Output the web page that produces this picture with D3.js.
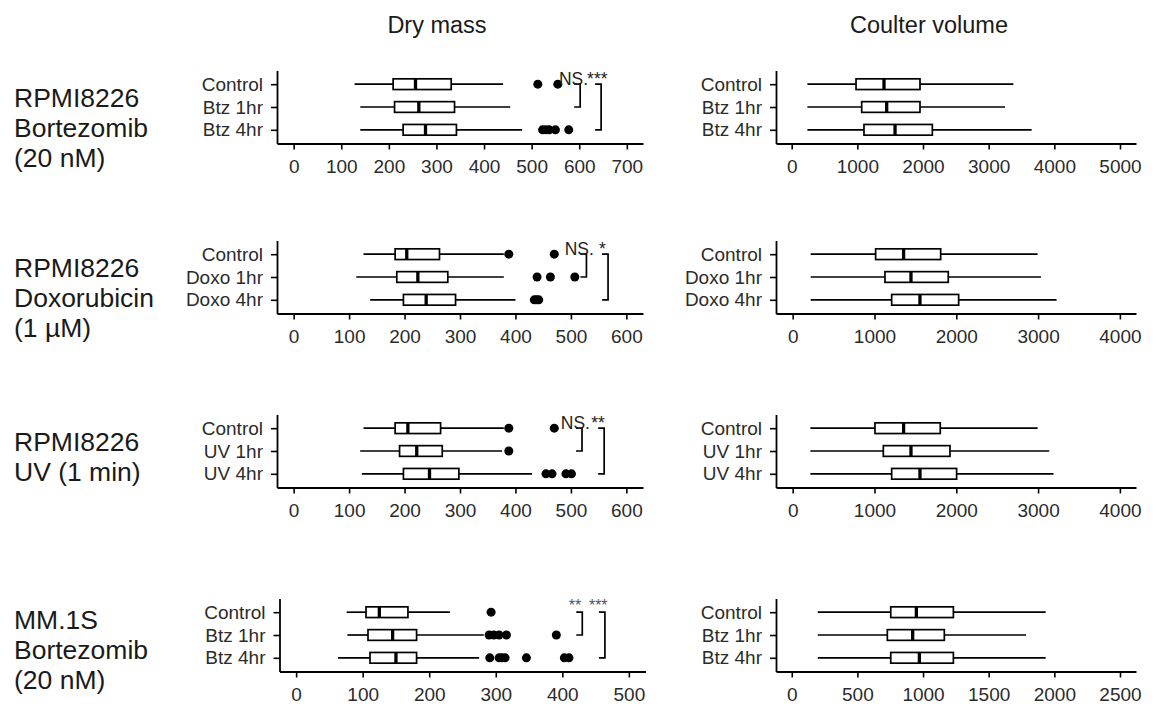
<!DOCTYPE html>
<html>
<head>
<meta charset="utf-8">
<script src="https://cdn.jsdelivr.net/npm/d3@7"></script>
<style>
  body { margin: 0; background: #fff; }
  text { font-family: "Liberation Sans", Arial, sans-serif; }
</style>
</head>
<body>
<div id="chart"></div>
<script>
// ---- data ----
const columnTitles = ["Dry mass", "Coulter volume"];

const rowLabels = [
    ["RPMI8226", "Bortezomib", "(20 nM)"],
    ["RPMI8226", "Doxorubicin", "(1 \u00b5M)"],
    ["RPMI8226", "UV (1 min)"],
    ["MM.1S", "Bortezomib", "(20 nM)"]
];

const groupNames = [
    ["Control", "Btz 1hr", "Btz 4hr"],
    ["Control", "Doxo 1hr", "Doxo 4hr"],
    ["Control", "UV 1hr", "UV 4hr"],
    ["Control", "Btz 1hr", "Btz 4hr"]
];

// [whisker low, q1, median, q3, whisker high]
const dryStats = [
    [[128, 209, 256, 331, 440], [140, 212, 263, 338, 455], [140, 230, 277, 342, 480]],
    [[126, 183, 204, 263, 379], [113, 186, 224, 278, 379], [138, 198, 239, 292, 400]],
    [[126, 183, 206, 265, 379], [120, 191, 222, 268, 376], [123, 198, 245, 298, 430]],
    [[76, 105, 125, 168, 231], [77, 108, 145, 181, 282], [63, 111, 150, 181, 275]]
];

const dryOutliers = [
    [[513, 555], [], [523, 530, 537, 550, 578]],
    [[388, 470], [439, 463, 507], [434, 438, 442]],
    [[388, 470], [388], [455, 466, 491, 501]],
    [[293], [290, 297, 305, 316, 391], [291, 305, 309, 314, 346, 403, 410]]
];

const coulterStats = [
    [[239, 980, 1406, 1954, 3376], [239, 1066, 1447, 1954, 3249], [239, 1101, 1574, 2142, 3655]],
    [[220, 1014, 1356, 1809, 2994], [220, 1128, 1446, 1902, 3035], [220, 1210, 1556, 2029, 3226]],
    [[216, 1006, 1356, 1804, 2994], [216, 1108, 1446, 1923, 3136], [216, 1210, 1556, 2004, 3189]],
    [[198, 754, 949, 1231, 1934], [198, 728, 921, 1162, 1784], [198, 754, 972, 1231, 1934]]
];

const dryTicks = [
    [0, 100, 200, 300, 400, 500, 600, 700],
    [0, 100, 200, 300, 400, 500, 600],
    [0, 100, 200, 300, 400, 500, 600],
    [0, 100, 200, 300, 400, 500]
];
const coulterTicks = [
    [0, 1000, 2000, 3000, 4000, 5000],
    [0, 1000, 2000, 3000, 4000],
    [0, 1000, 2000, 3000, 4000],
    [0, 500, 1000, 1500, 2000, 2500]
];

// axis extents (value units)
const dryLimits = [[-35, 734], [-30, 630], [-30, 630], [-25, 525]];
const coulterLimits = [[-239, 5244], [-204, 4197], [-204, 4197], [-120, 2622]];

// significance brackets on the dry-mass panels: [vs 1hr, vs 4hr]
const sigBracketAt = [[602, 646], [528, 567], [520, 560], [430, 464]];
const sigLabels = [["NS.", "***"], ["NS.", "*"], ["NS.", "**"], ["**", "***"]];
const sigLabelAt = [[588, 638], [515, 557], [508, 549], [419, 454]];

// ---- layout ----
const W = 1157, H = 706;
const rowBottom = [143.5, 313.5, 487.5, 671.5];
const rowLabelTop = [98, 268, 442, 620];
const panelX = [[277, 643], [776, 1136]];
const axisH = 73;
const ink = "#1a1a1a";

const svg = d3.select("#chart").append("svg")
    .attr("width", W)
    .attr("height", H);

svg.selectAll(".coltitle")
    .data(columnTitles)
    .join("text")
    .attr("class", "coltitle")
    .attr("x", (d, i) => i === 0 ? 437 : 929)
    .attr("y", 33)
    .attr("text-anchor", "middle")
    .attr("font-size", 23.5)
    .attr("fill", ink)
    .text(d => d);

rowLabels.forEach((lines, r) => {
    const t = svg.append("text")
        .attr("x", 14)
        .attr("y", rowLabelTop[r] + 9)
        .attr("font-size", 26.5)
        .attr("fill", ink);
    lines.forEach((ln, k) => {
        t.append("tspan").attr("x", 14).attr("dy", k === 0 ? 0 : 30).text(ln);
    });
});

function drawPanel(r, c) {
    const stats = c === 0 ? dryStats[r] : coulterStats[r];
    const outs = c === 0 ? dryOutliers[r] : [[], [], []];
    const lim = c === 0 ? dryLimits[r] : coulterLimits[r];
    const ticks = c === 0 ? dryTicks[r] : coulterTicks[r];
    let [x0, x1] = panelX[c];
    if (c === 0 && r === 3) { x0 += 2.5; x1 += 2.5; }
    const bottom = rowBottom[r];

    const x = d3.scaleLinear().domain(lim).range([x0, x1]);
    // top category first like the original
    const y = d3.scalePoint()
        .domain(groupNames[r].slice().reverse())
        .range([bottom, bottom - axisH])
        .padding(0.6);

    const g = svg.append("g");

    const xAxis = g.append("g")
        .attr("transform", `translate(0,${bottom})`)
        .call(d3.axisBottom(x).tickValues(ticks).tickFormat(d3.format("d"))
            .tickSize(6).tickSizeOuter(0).tickPadding(10));
    const yAxis = g.append("g")
        .attr("transform", `translate(${x0},0)`)
        .call(d3.axisLeft(y).tickSize(6).tickSizeOuter(0).tickPadding(8));

    [xAxis, yAxis].forEach(a => {
        a.select(".domain").attr("stroke", "#000").attr("stroke-width", 1.8);
        a.selectAll(".tick line").attr("stroke", "#000").attr("stroke-width", 1.6);
        a.selectAll(".tick text")
            .attr("font-family", "'Liberation Sans', Arial, sans-serif")
            .attr("font-size", 19)
            .attr("fill", "#2b2b2b");
    });

    const boxH = 10.7;
    const lw = 1.7;
    const names = groupNames[r];
    names.forEach((name, i) => {
        const [lo, q1, md, q3, hi] = stats[i];
        const cy = y(name);
        g.append("line")
            .attr("x1", x(lo)).attr("x2", x(q1))
            .attr("y1", cy).attr("y2", cy)
            .attr("stroke", "#000").attr("stroke-width", lw);
        g.append("line")
            .attr("x1", x(q3)).attr("x2", x(hi))
            .attr("y1", cy).attr("y2", cy)
            .attr("stroke", "#000").attr("stroke-width", lw);
        g.append("rect")
            .attr("x", x(q1)).attr("y", cy - boxH / 2)
            .attr("width", x(q3) - x(q1)).attr("height", boxH)
            .attr("fill", "#fff").attr("stroke", "#000").attr("stroke-width", lw);
        g.append("line")
            .attr("x1", x(md)).attr("x2", x(md))
            .attr("y1", cy - boxH / 2).attr("y2", cy + boxH / 2)
            .attr("stroke", "#000").attr("stroke-width", 3.3);
        g.selectAll(null)
            .data(outs[i])
            .join("circle")
            .attr("cx", d => x(d))
            .attr("cy", cy)
            .attr("r", 4.5)
            .attr("fill", "#000");
    });

    if (c === 0) {
        const tickLen = 6;
        sigBracketAt[r].forEach((bv, k) => {
            const ya = y(names[0]), yb = y(names[k + 1]);
            const bx = x(bv);
            g.append("path")
                .attr("d", `M${bx - tickLen},${ya}H${bx}V${yb}H${bx - tickLen}`)
                .attr("fill", "none")
                .attr("stroke", "#000")
                .attr("stroke-width", 1.7);
        });
        const small = r === 3;
        sigLabels[r].forEach((lab, k) => {
            g.append("text")
                .attr("x", x(sigLabelAt[r][k]))
                .attr("y", y(names[0]) + (small ? -1 : 1))
                .attr("text-anchor", "middle")
                .attr("font-size", small ? 16 : 17.5)
                .attr("fill", small ? "#555" : "#222")
                .text(lab);
        });
    }
}

for (let r = 0; r < 4; r++) {
    drawPanel(r, 0);
    drawPanel(r, 1);
}
</script>
</body>
</html>
